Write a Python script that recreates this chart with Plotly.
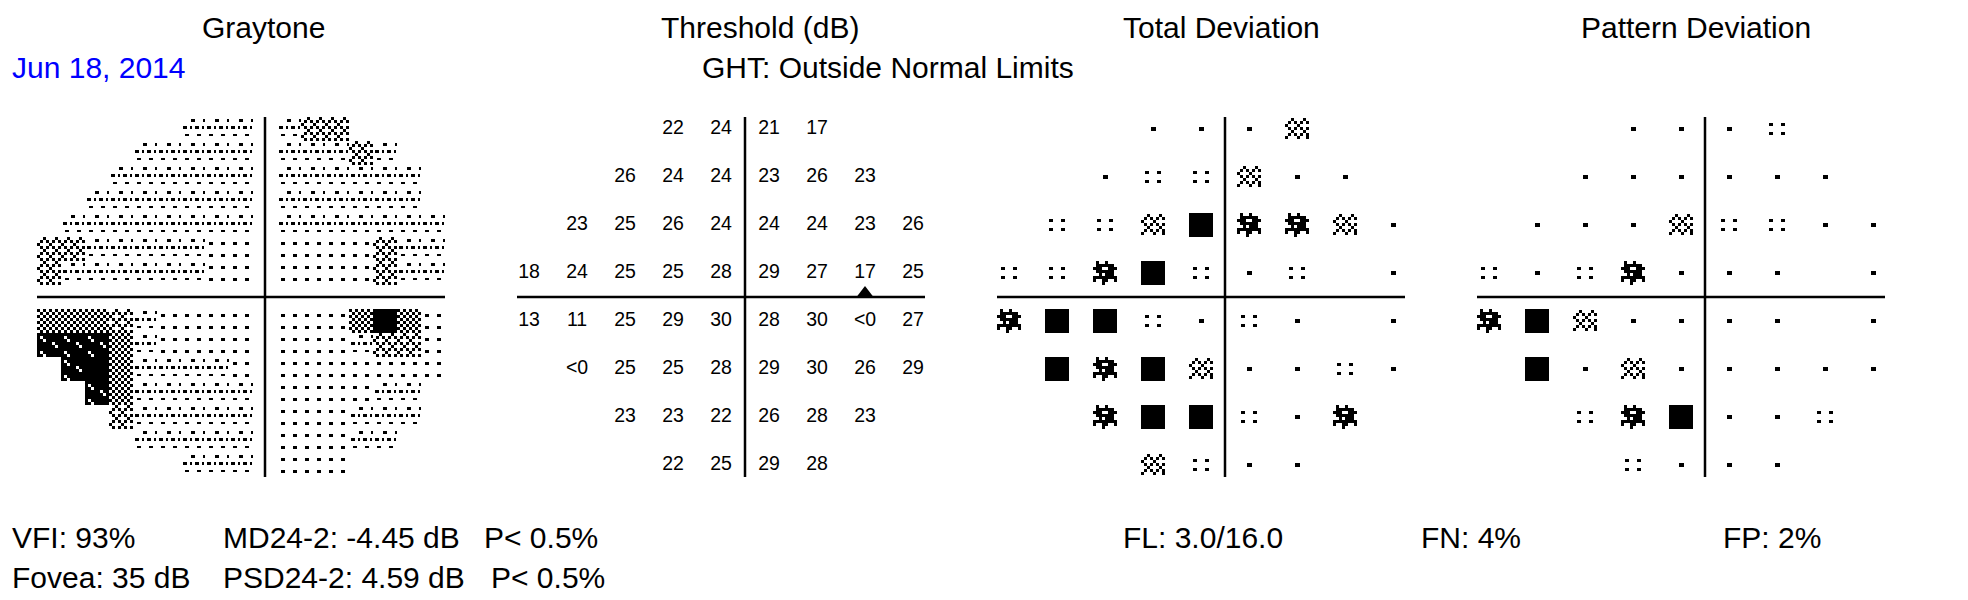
import numpy as np
import plotly.graph_objects as go

# ---------------- data ----------------
X_DEG = [-27, -21, -15, -9, -3, 3, 9, 15, 21]      # test point columns (deg)
Y_DEG = [21, 15, 9, 3, -3, -9, -15, -21]           # test point rows (deg)

threshold_rows = [
    ["", "", "", "22", "24", "21", "17", "", ""],
    ["", "", "26", "24", "24", "23", "26", "23", ""],
    ["", "23", "25", "26", "24", "24", "24", "23", "26"],
    ["18", "24", "25", "25", "28", "29", "27", "17", "25"],
    ["13", "11", "25", "29", "30", "28", "30", "<0", "27"],
    ["", "<0", "25", "25", "28", "29", "30", "26", "29"],
    ["", "", "23", "23", "22", "26", "28", "23", ""],
    ["", "", "", "22", "25", "29", "28", "", ""],
]
# symbols: '.' normal, ':' P<5%, 'c' P<2%, '#' P<1%, 'B' P<0.5%
total_dev_rows = [
    "   ...c  ",
    "  .::c.. ",
    " ::cB##c.",
    "::#B:.: .",
    "#BB:.:. .",
    " B#Bc..:.",
    "  #BB:.# ",
    "   c:..  ",
]
pattern_dev_rows = [
    "   ...:  ",
    "  ...... ",
    " ...c::..",
    ":.:#... .",
    "#Bc.... .",
    " B.c.....",
    "  :#B..: ",
    "   :...  ",
]
# graytone level per 3-degree cell (0 lightest .. 5 black), left 9 cols | right 7 cols
GT_X = [-27, -24, -21, -18, -15, -12, -9, -6, -3, 3, 6, 9, 12, 15, 18, 21]
GT_Y = [21, 18, 15, 12, 9, 6, 3, -3, -6, -9, -12, -15, -18, -21]
graytone_rows = [
    "      111" + "122    ",
    "    11111" + "11121  ",
    "   111111" + "111111 ",
    "  1111111" + "111111 ",
    " 11111111" + "1111111",
    "221111100" + "0000211",
    "211111100" + "0000211",
    "333210000" + "0003530",
    "444310000" + "0001220",
    " 45311110" + "0000000",
    "  4311111" + "000011 ",
    "   211111" + "000111 ",
    "    11111" + "00011  ",
    "      111" + "000    ",
]
blind_spot = (15, 0.5)

titles = ["Graytone", "Threshold (dB)", "Total Deviation", "Pattern Deviation"]

# ---------------- glyph / texture styles ----------------
GLYPH_C = [          # 3px units, 8 x 7
    "..#...#.",
    ".#.#.#.#",
    "#...#...",
    ".#.#.#.#",
    "..#...#.",
    ".#.#.#.#",
    "#...#..#",
]
GLYPH_H = [          # 3px units, 8 x 8
    ".#..#...",
    ".######.",
    "###..###",
    ".######.",
    "..#.###.",
    "########",
    "#..##..#",
    "...#....",
]
# textures as pixel rectangles inside a 24x24 cell: (x0, x1, y0, y1)
TEX_RECTS = {
    0: [(4, 8, 5, 8), (16, 20, 5, 8), (4, 8, 17, 20), (16, 20, 17, 20)],
    1: [(10, 14, 2, 5), (2, 6, 9, 12), (9, 11, 9, 12), (14, 18, 9, 12), (21, 23, 9, 12),
        (4, 8, 17, 19), (16, 20, 17, 19), (22, 24, 2, 5)],
}
TEX_UNITS = {
    2: ["..#...#.", ".#.#.#.#", "#...#...", ".#.#.#.#"] * 2,
    3: ["#.#.#.#.", ".#.#.#.#"] * 4,
    4: ["########", "#.######", "##.#####", "#####.##",
        "######.#", "########", "#.######", "##.#####"],
    5: ["########"] * 8,
}

PPD = 8           # pixels per degree
W, H = 408, 360   # bitmap size (x -28.5..22.5, y -22.5..22.5)


def unit_bitmap(rows):
    a = np.array([[1 if ch == "#" else 0 for ch in r] for r in rows], dtype=float)
    return np.kron(a, np.ones((3, 3)))


def rect_bitmap(rects):
    g = np.zeros((24, 24))
    for x0, x1, y0, y1 in rects:
        g[y0:y1, x0:x1] = 1
    return g


def glyph(code):
    g = np.zeros((24, 24))
    if code == ".":
        g[10:14, 10:15] = 1
    elif code == ":":
        for r0 in (6, 15):
            for c0 in (4, 16):
                g[r0:r0 + 3, c0:c0 + 4] = 1
    elif code == "B":
        g[:, :] = 1
    elif code == "c":
        g[1:22, :] = unit_bitmap(GLYPH_C)
    elif code == "#":
        g = unit_bitmap(GLYPH_H)
    return g


def symbol_bitmap(rows):
    bm = np.zeros((H, W))
    for ri, row in enumerate(rows):
        for ci, code in enumerate(row):
            if code == " ":
                continue
            cc = int(round((X_DEG[ci] + 28.5) * PPD))
            rc = int(round((22.5 - Y_DEG[ri]) * PPD))
            bm[rc - 12:rc + 12, cc - 12:cc + 12] = np.maximum(
                bm[rc - 12:rc + 12, cc - 12:cc + 12], glyph(code))
    return bm


def graytone_bitmap():
    bm = np.zeros((H, W))
    tiles = {k: rect_bitmap(v) for k, v in TEX_RECTS.items()}
    tiles.update({k: unit_bitmap(v) for k, v in TEX_UNITS.items()})
    for ri, row in enumerate(graytone_rows):
        for ci, ch in enumerate(row):
            if ch == " ":
                continue
            c0 = int(round((GT_X[ci] - 1.5 + 28.5) * PPD))
            r0 = int(round((22.5 - GT_Y[ri] - 1.5) * PPD))
            bm[r0:r0 + 24, c0:c0 + 24] = tiles[int(ch)]
    return bm


def heat(bm, xa, ya):
    z = bm[::-1].copy()
    z[z == 0] = np.nan
    return go.Heatmap(z=z, x0=-28.5 + 0.5 / PPD, dx=1 / PPD,
                      y0=-22.5 + 0.5 / PPD, dy=1 / PPD,
                      colorscale=[[0, "black"], [1, "black"]], showscale=False,
                      zmin=0, zmax=1, hoverinfo="skip", xaxis=xa, yaxis=ya)


# ---------------- figure ----------------
FW, FH = 1968, 600
OFF = 8   # page margin of the browser body
CENTERS = [265 - OFF, 745 - OFF, 1225 - OFF, 1705 - OFF]
AXIS_Y = 297 - OFF
fig = go.Figure()

for k, cx in enumerate(CENTERS):
    sfx = "" if k == 0 else str(k + 1)
    fig.layout["xaxis" + sfx] = dict(domain=[(cx - 240) / FW, (cx + 240) / FW],
                                     range=[-30, 30], visible=False, fixedrange=True,
                                     anchor="y" + sfx)
    fig.layout["yaxis" + sfx] = dict(domain=[1 - (AXIS_Y + 200) / FH, 1 - (AXIS_Y - 200) / FH],
                                     range=[-25, 25], visible=False, fixedrange=True,
                                     anchor="x" + sfx)
    fig.add_shape(type="line", xref="x" + sfx, yref="y" + sfx, x0=-28.5, x1=22.5,
                  y0=0, y1=0, line=dict(color="black", width=2.5))
    fig.add_shape(type="line", xref="x" + sfx, yref="y" + sfx, x0=0, x1=0,
                  y0=-22.5, y1=22.5, line=dict(color="black", width=2.5))

fig.add_trace(heat(graytone_bitmap(), "x", "y"))

tx, ty, tt = [], [], []
for ri, row in enumerate(threshold_rows):
    for ci, v in enumerate(row):
        if v:
            tx.append(X_DEG[ci]); ty.append(Y_DEG[ri]); tt.append(v)
fig.add_trace(go.Scatter(x=tx, y=ty, text=tt, mode="text", xaxis="x2", yaxis="y2",
                         textfont=dict(family="Liberation Sans, Arial", size=19.5, color="black"),
                         hoverinfo="skip", showlegend=False))
fig.add_trace(go.Scatter(x=[blind_spot[0]], y=[blind_spot[1]], mode="markers",
                         xaxis="x2", yaxis="y2",
                         marker=dict(symbol="triangle-up", size=14, color="black"),
                         hoverinfo="skip", showlegend=False))

fig.add_trace(heat(symbol_bitmap(total_dev_rows), "x3", "y3"))
fig.add_trace(heat(symbol_bitmap(pattern_dev_rows), "x4", "y4"))

FONT = "Liberation Sans, Arial, sans-serif"


def ann(text, px, py, anchor="left", color="black", size=30):
    fig.add_annotation(text=text, x=(px - OFF) / FW, y=1 - (py - OFF) / FH,
                       xref="paper", yref="paper",
                       xanchor=anchor, yanchor="middle", showarrow=False,
                       font=dict(family=FONT, size=size, color=color))


for t, cx in zip(titles, [263, 760, 1221, 1696]):
    ann(t, cx, 28, "center")
ann("Jun 18, 2014", 10, 67, color="#0000ff")
ann("GHT: Outside Normal Limits", 888, 67, "center")
ann("VFI: 93%", 10, 537)
ann("MD24-2: -4.45 dB", 221, 537)
ann("P< 0.5%", 482, 537)
ann("Fovea: 35 dB", 10, 577)
ann("PSD24-2: 4.59 dB", 221, 577)
ann("P< 0.5%", 489, 577)
ann("FL: 3.0/16.0", 1121, 537)
ann("FN: 4%", 1419, 537)
ann("FP: 2%", 1721, 537)

fig.update_layout(width=FW, height=FH, margin=dict(l=0, r=0, t=0, b=0),
                  paper_bgcolor="white", plot_bgcolor="rgba(0,0,0,0)", showlegend=False)
fig.write_html("out.html")
